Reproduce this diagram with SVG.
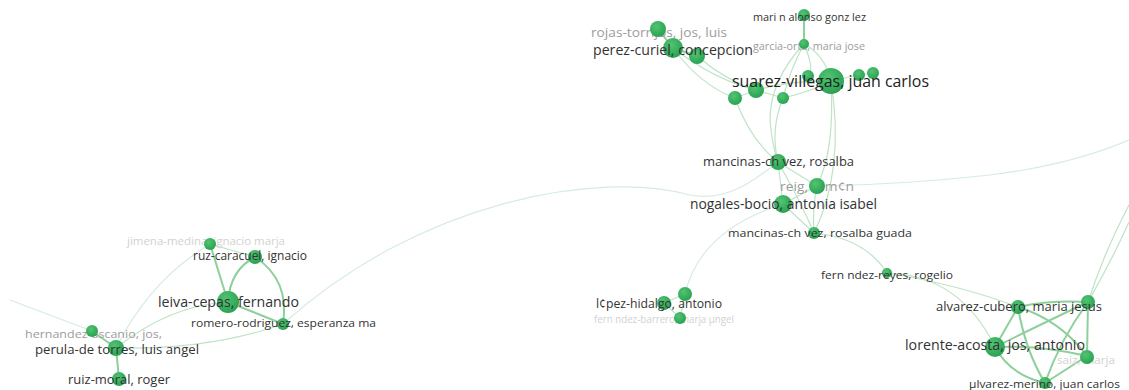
<svg xmlns="http://www.w3.org/2000/svg" width="1129" height="390" viewBox="0 0 1129 390">
<defs>
<radialGradient id="ng" cx="0.4" cy="0.35" r="0.7">
<stop offset="0" stop-color="#52c472"/>
<stop offset="1" stop-color="#26a050"/>
</radialGradient>
<style>
text{font-family:"Open Sans","Liberation Sans",sans-serif;}
.n{fill:url(#ng);}
.d{fill:#333;}
.g{fill:#9c9c9c;}
.l{fill:#d2d2d2;}
.e{fill:none;stroke:#bfe3c6;stroke-width:1.2;}
.f{fill:none;stroke:#d6ece0;stroke-width:1.2;}
.t{fill:none;stroke:#8dd09b;stroke-width:2;}
</style>
</defs>
<rect width="1129" height="390" fill="#fff"/>
<g id="connectors">
<path class="t" d="M804,15 L804,44"/>
<path class="e" d="M804,44 Q825,55 831,81"/>
<path class="e" d="M804,44 Q790,70 783,98"/>
<path class="e" d="M804,44 Q770,80 770,120 Q772,145 778,162"/>
<path class="e" d="M804,44 Q815,70 808,76"/>
<path class="t" d="M658,29 L673,48"/>
<path class="t" d="M673,48 L697,56"/>
<path class="e" d="M673,48 Q715,80 756,90"/>
<path class="e" d="M697,56 Q725,80 756,90"/>
<path class="e" d="M673,48 Q700,85 735,98"/>
<path class="e" d="M735,98 L756,90"/>
<path class="e" d="M756,90 L783,98"/>
<path class="e" d="M756,90 Q795,80 831,81"/>
<path class="e" d="M783,98 Q810,92 831,81"/>
<path class="e" d="M831,81 L859,75 L873,73"/>
<path class="e" d="M735,98 Q750,140 778,162"/>
<path class="e" d="M783,98 Q770,130 778,162"/>
<path class="e" d="M831,81 Q835,150 817,186"/>
<path class="e" d="M831,81 Q845,170 814,233"/>
<path class="e" d="M778,162 L783,204"/>
<path class="e" d="M778,162 L817,186"/>
<path class="e" d="M778,162 Q800,200 814,233"/>
<path class="e" d="M817,186 L783,204"/>
<path class="e" d="M817,186 Q812,210 814,233"/>
<path class="e" d="M783,204 L814,233"/>
<path class="f" d="M817,186 Q900,185 990,175 Q1070,165 1129,140"/>
<path class="f" d="M283,324 C420,200 600,170 690,195 C730,203 760,175 778,162"/>
<path class="f" d="M783,204 Q700,230 685,294"/>
<path class="e" d="M685,294 L664,303 L680,318 Z"/>
<path class="e" d="M814,233 Q865,238 887,273"/>
<path class="e" d="M887,273 Q960,275 995,347"/>
<path class="e" d="M887,273 Q960,285 1018,307"/>
<path class="t" d="M1018,307 Q1050,300 1088,302"/>
<path class="t" d="M1018,307 L995,347"/>
<path class="t" d="M1018,307 Q1060,320 1087,356"/>
<path class="t" d="M1018,307 Q1025,350 1045,383"/>
<path class="t" d="M995,347 Q1050,320 1088,302"/>
<path class="t" d="M995,347 Q1040,345 1087,356"/>
<path class="t" d="M995,347 Q1010,375 1045,383"/>
<path class="t" d="M1088,302 Q1060,340 1045,383"/>
<path class="t" d="M1087,356 L1045,383"/>
<path class="t" d="M1088,302 L1087,356"/>
<path class="e" d="M1088,302 Q1105,250 1129,205"/>
<path class="e" d="M1088,302 Q1112,260 1129,222"/>
<path class="f" d="M10,300 L92,331"/>
<path class="t" d="M92,331 L116,348"/>
<path class="t" d="M116,348 L119,379"/>
<path class="f" d="M116,348 Q150,280 210,244"/>
<path class="e" d="M116,348 Q170,305 228,302"/>
<path class="e" d="M116,348 Q210,350 283,324"/>
<path class="t" d="M228,302 L210,244"/>
<path class="t" d="M228,302 Q230,270 255,257"/>
<path class="t" d="M228,302 L283,324"/>
<path class="t" d="M255,257 Q290,280 283,324"/>
<path class="e" d="M210,244 L255,257"/>
</g>
<g id="node-rojas"><text class="g" x="591" y="37" font-size="13.5" textLength="136" lengthAdjust="spacingAndGlyphs">rojas-torrijos, jos, luis</text><circle class="n" cx="658" cy="29" r="8"/></g>
<g id="node-garcia"><text class="g" x="753" y="50" font-size="10" textLength="112" lengthAdjust="spacingAndGlyphs">garcia-orta, maria jose</text><circle class="n" cx="804" cy="44" r="5"/></g>
<g id="node-reig"><text class="g" x="780" y="191" font-size="13.5" textLength="74" lengthAdjust="spacingAndGlyphs">reig, ram¢n</text><circle class="n" cx="817" cy="186" r="8"/></g>
<g id="node-fernandez-barrero"><text class="l" x="594" y="323" font-size="10" textLength="140" lengthAdjust="spacingAndGlyphs">fern ndez-barrero, marja µngel</text><circle class="n" cx="680" cy="318" r="6"/></g>
<g id="node-saiz"><text class="l" x="1057" y="364" font-size="10" textLength="58" lengthAdjust="spacingAndGlyphs">saiz, marja</text><circle class="n" cx="1087" cy="357" r="7"/></g>
<g id="node-jimena"><text class="l" x="127" y="245" font-size="10.5" textLength="158" lengthAdjust="spacingAndGlyphs">jimena-medina, ignacio marja</text><circle class="n" cx="210" cy="244" r="6"/></g>
<g id="node-hernandez"><text class="g" x="25" y="338" font-size="11" textLength="137" lengthAdjust="spacingAndGlyphs">hernandez-ascanio, jos,</text><circle class="n" cx="92" cy="331" r="6"/></g>
<g id="node-t1"><circle class="n" cx="697" cy="56" r="8"/></g>
<g id="node-t2"><circle class="n" cx="756" cy="90" r="8"/></g>
<g id="node-t3"><circle class="n" cx="735" cy="98" r="7"/></g>
<g id="node-t4"><circle class="n" cx="783" cy="98" r="6"/></g>
<g id="node-t5"><circle class="n" cx="808" cy="76" r="6"/></g>
<g id="node-t6"><circle class="n" cx="859" cy="75" r="6"/></g>
<g id="node-t7"><circle class="n" cx="873" cy="73" r="6"/></g>
<g id="node-l1"><circle class="n" cx="685" cy="294" r="7"/></g>
<g id="node-r1"><circle class="n" cx="1088" cy="302" r="7"/></g>
<g id="node-marin"><circle class="n" cx="804" cy="15" r="6"/><text class="d" x="753" y="21" font-size="10.5" textLength="113" lengthAdjust="spacingAndGlyphs">mari n alonso gonz lez</text></g>
<g id="node-perez"><circle class="n" cx="673" cy="48" r="10"/><text class="d" x="593" y="55" font-size="14.5" textLength="160" lengthAdjust="spacingAndGlyphs">perez-curiel, concepcion</text></g>
<g id="node-suarez"><circle class="n" cx="831" cy="81" r="13"/><text fill="#222" x="732" y="87" font-size="16" textLength="197" lengthAdjust="spacingAndGlyphs">suarez-villegas, juan carlos</text></g>
<g id="node-mancinas"><circle class="n" cx="778" cy="162" r="8"/><text class="d" x="703" y="166" font-size="13" textLength="151" lengthAdjust="spacingAndGlyphs">mancinas-ch vez, rosalba</text></g>
<g id="node-nogales"><circle class="n" cx="783" cy="204" r="9"/><text class="d" x="690" y="209" font-size="14.5" textLength="187" lengthAdjust="spacingAndGlyphs">nogales-bocio, antonia isabel</text></g>
<g id="node-mancinas-guada"><circle class="n" cx="814" cy="233" r="6"/><text class="d" x="728" y="237" font-size="11.5" textLength="184" lengthAdjust="spacingAndGlyphs">mancinas-ch vez, rosalba guada</text></g>
<g id="node-lopez"><circle class="n" cx="664" cy="303" r="7"/><text class="d" x="596" y="308" font-size="12.5" textLength="126" lengthAdjust="spacingAndGlyphs">l¢pez-hidalgo, antonio</text></g>
<g id="node-reyes"><circle class="n" cx="887" cy="273" r="5"/><text class="d" x="821" y="279" font-size="11.5" textLength="132" lengthAdjust="spacingAndGlyphs">fern ndez-reyes, rogelio</text></g>
<g id="node-alvarez-cubero"><circle class="n" cx="1018" cy="307" r="7"/><text class="d" x="936" y="311" font-size="13" textLength="166" lengthAdjust="spacingAndGlyphs">alvarez-cubero, maria jesus</text></g>
<g id="node-lorente"><circle class="n" cx="995" cy="347" r="10"/><text class="d" x="905" y="350" font-size="14" textLength="180" lengthAdjust="spacingAndGlyphs">lorente-acosta, jos, antonio</text></g>
<g id="node-merino"><circle class="n" cx="1045" cy="383" r="6"/><text class="d" x="969" y="388" font-size="11.5" textLength="151" lengthAdjust="spacingAndGlyphs">µlvarez-merino, juan carlos</text></g>
<g id="node-ruz"><circle class="n" cx="255" cy="257" r="7"/><text class="d" x="193" y="260" font-size="12.5" textLength="114" lengthAdjust="spacingAndGlyphs">ruz-caracuel, ignacio</text></g>
<g id="node-leiva"><circle class="n" cx="228" cy="302" r="11"/><text class="d" x="158" y="307" font-size="14.5" textLength="141" lengthAdjust="spacingAndGlyphs">leiva-cepas, fernando</text></g>
<g id="node-romero"><circle class="n" cx="283" cy="324" r="6"/><text class="d" x="191" y="327" font-size="11.5" textLength="185" lengthAdjust="spacingAndGlyphs">romero-rodriguez, esperanza ma</text></g>
<g id="node-perula"><circle class="n" cx="116" cy="348" r="8"/><text class="d" x="35" y="354" font-size="13" textLength="164" lengthAdjust="spacingAndGlyphs">perula-de torres, luis angel</text></g>
<g id="node-ruiz"><circle class="n" cx="119" cy="379" r="7"/><text class="d" x="68" y="384" font-size="12.5" textLength="102" lengthAdjust="spacingAndGlyphs">ruiz-moral, roger</text></g>
</svg>
